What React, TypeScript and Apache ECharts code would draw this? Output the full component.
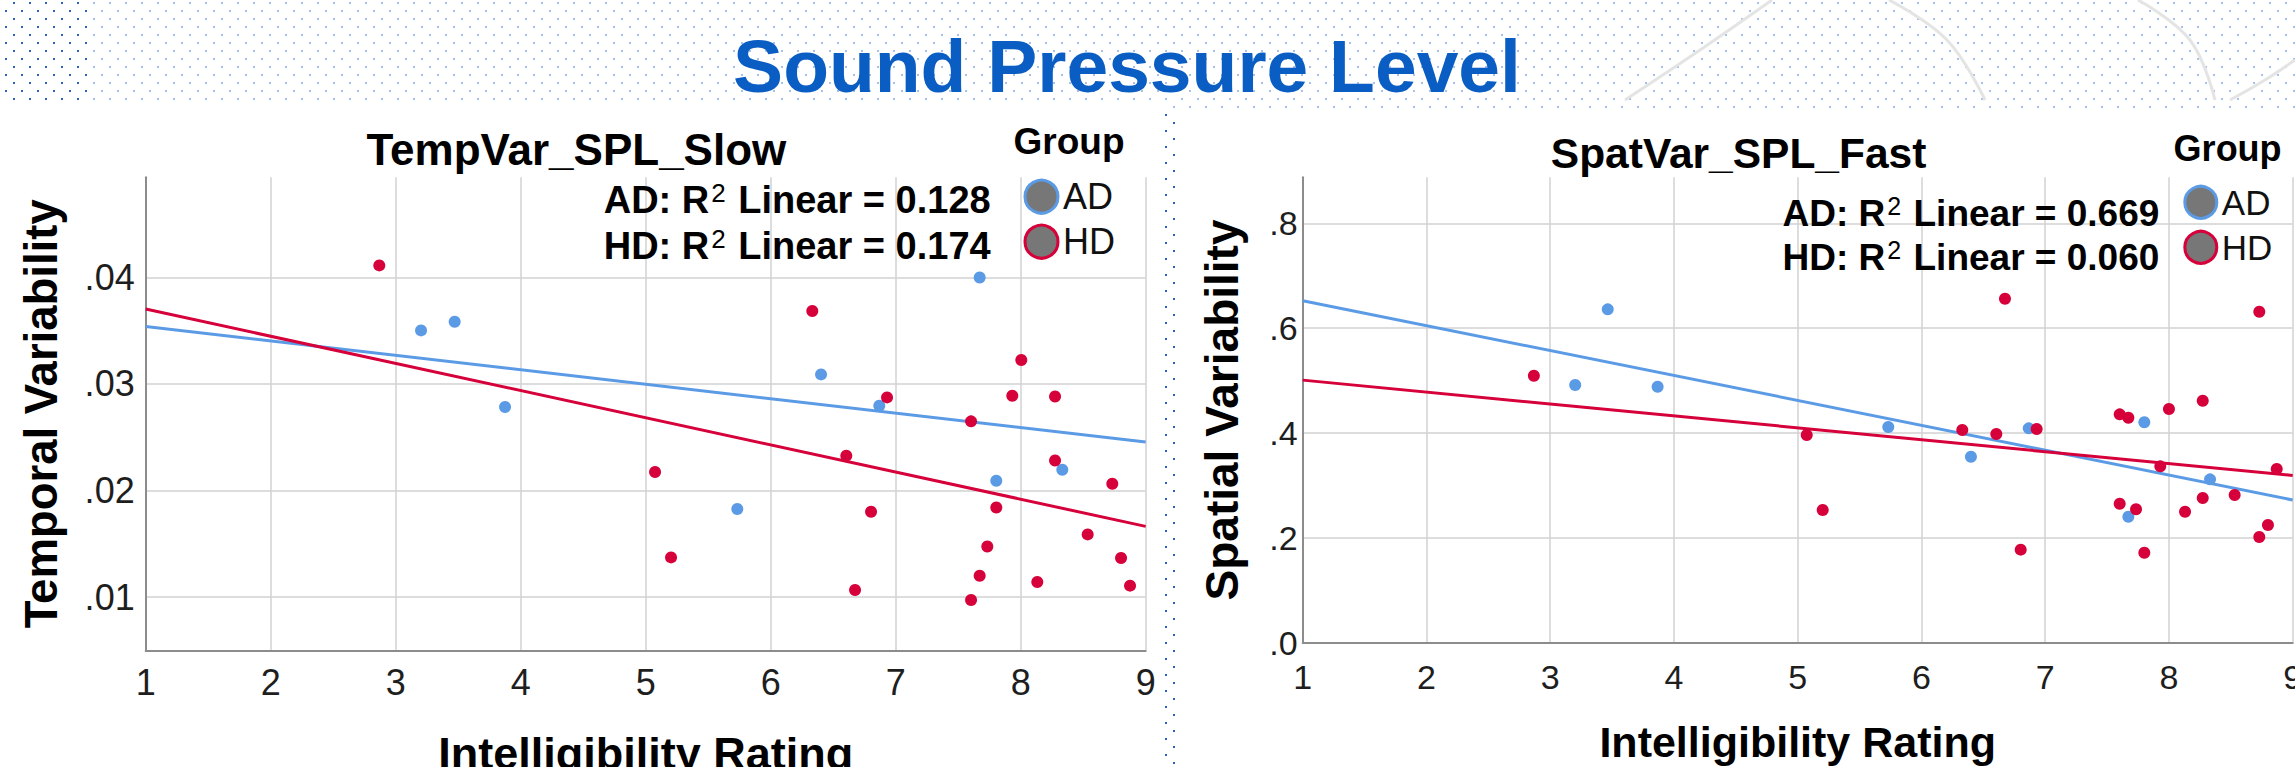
import React, { useEffect, useRef } from 'react';
import * as echarts from 'echarts';

const W = 2295;
const H = 767;
const FONT = "'Liberation Sans', Arial, Helvetica, sans-serif";

// ---------- texts ----------
const pageTitle = 'Sound Pressure Level';
const panelTitles = ['TempVar_SPL_Slow', 'SpatVar_SPL_Fast'];
const yNames = ['Temporal Variability', 'Spatial Variability'];
const xName = 'Intelligibility Rating';
const legendTitle = 'Group';
const groups = ['AD', 'HD'];
const r2Temp = ['0.128', '0.174'];
const r2Spat = ['0.669', '0.060'];

// ---------- axes ----------
const xMin = 1;
const xMax = 9;
const tempYMin = 0.005;
const tempYMax = 0.0494;
const spatYMin = 0;
const spatYMax = 0.888;

// ---------- data: TempVar_SPL_Slow ----------
const tempAdX = [3.203, 3.472, 3.875, 5.733, 6.403, 6.869, 7.672, 7.805, 8.333];
const tempAdY = [0.03503, 0.03584, 0.02784, 0.01826, 0.0309, 0.02796, 0.04, 0.02092, 0.02195];
const tempHdX = [2.869, 5.075, 5.203, 6.333, 6.605, 6.675, 6.803, 6.931, 7.603, 7.603, 7.672, 7.733, 7.805, 7.933, 8.005, 8.133, 8.275, 8.275, 8.536, 8.733, 8.803, 8.875];
const tempHdY = [0.04113, 0.02174, 0.01372, 0.03685, 0.02327, 0.01066, 0.018, 0.02874, 0.02649, 0.00972, 0.012, 0.01475, 0.01841, 0.0289, 0.03225, 0.01141, 0.02883, 0.02282, 0.01588, 0.02064, 0.01367, 0.01107];

// ---------- data: SpatVar_SPL_Fast ----------
const spatAdX = [3.202, 3.465, 3.868, 5.732, 6.4, 6.867, 7.672, 7.801, 8.332];
const spatAdY = [0.4916, 0.636, 0.4884, 0.4115, 0.3548, 0.409, 0.2404, 0.4205, 0.3117];
const spatHdX = [2.868, 5.073, 5.202, 6.33, 6.605, 6.675, 6.802, 6.931, 7.602, 7.602, 7.672, 7.734, 7.801, 7.93, 8.0, 8.13, 8.273, 8.273, 8.531, 8.73, 8.73, 8.8, 8.871];
const spatHdY = [0.5093, 0.3962, 0.2532, 0.4058, 0.3981, 0.6562, 0.1775, 0.4077, 0.4357, 0.2652, 0.4292, 0.2545, 0.1717, 0.3365, 0.4458, 0.2499, 0.4616, 0.2761, 0.2818, 0.6314, 0.2017, 0.2246, 0.3314];

// ---------- fit lines (end points) ----------
const fitX = [1, 9];
const tempFitAdY = [0.0354, 0.02455];
const tempFitHdY = [0.03703, 0.01663];
const spatFitAdY = [0.6524, 0.2723];
const spatFitHdY = [0.501, 0.319];

const BLUE = '#5B9BE6';
const RED = '#D6003A';
const GRID_C = '#d2d2d2';
const AXIS_C = '#8c8c8c';
const LABEL_C = '#1e1e1e';

const zip = (xs: number[], ys: number[]) => xs.map((x, i) => [x, ys[i]]);

function dotLayer(color: string, ox: number, oy: number) {
  // staggered dot grid: dots at (14+16n, 99+16m) and (6+16n, 91+16m) in page coordinates
  const mod = (v: number) => ((v % 16) + 16) % 16;
  const g = `radial-gradient(circle at 8px 8px, ${color} 0px, ${color} 1.1px, rgba(255,255,255,0) 1.5px)`;
  return {
    backgroundImage: `${g}, ${g}`,
    backgroundSize: '16px 16px, 16px 16px',
    backgroundPosition: `${mod(14 - 8 - ox)}px ${mod(99 - 8 - oy)}px, ${mod(6 - 8 - ox)}px ${mod(91 - 8 - oy)}px`,
  } as React.CSSProperties;
}

function buildOption() {
  const xAxisBase = (gridIndex: number, fs: number, margin: number, nameGap: number, nameFs: number) => ({
    type: 'value',
    gridIndex,
    min: xMin,
    max: xMax,
    interval: 1,
    axisLine: { show: true, onZero: false, lineStyle: { color: AXIS_C, width: 2 } },
    axisTick: { show: false },
    axisLabel: { fontSize: fs, color: LABEL_C, margin, fontFamily: FONT },
    splitLine: { show: true, lineStyle: { color: GRID_C, width: 1.5 } },
    name: xName,
    nameLocation: 'middle',
    nameGap,
    nameTextStyle: { fontSize: nameFs, fontWeight: 'bold', color: '#000', fontFamily: FONT },
  });

  const legendBase = (left: number, top: number, size: number, fs: number, gap: number) => ({
    orient: 'vertical',
    left,
    top,
    itemWidth: size,
    itemHeight: size,
    itemGap: gap,
    icon: 'circle',
    selectedMode: false,
    padding: 0,
    textStyle: { fontSize: fs, lineHeight: fs, color: '#111', fontFamily: FONT },
    data: groups.map((g, i) => ({
      name: g,
      itemStyle: { color: '#777777', borderColor: i === 0 ? BLUE : RED, borderWidth: 3 },
    })),
  });

  const r2Text = (label: string, val: string, x: number, y: number, fs: number) => ({
    type: 'text',
    x,
    y,
    z: 10,
    style: {
      text: `{a|${label}: R}{s|2}{a| Linear = ${val}}`,
      align: 'right',
      textAlign: 'right',
      verticalAlign: 'middle',
      textVerticalAlign: 'middle',
      rich: {
        a: { fontSize: fs, fontWeight: 'bold', fontFamily: FONT, fill: '#000', color: '#000', lineHeight: 40 },
        s: { fontSize: Math.round(fs * 0.68), fontWeight: 'normal', fontFamily: FONT, fill: '#000', color: '#000', lineHeight: 11, verticalAlign: 'top', padding: [0, 2, 0, 2] },
      },
    },
  });

  const plainText = (text: string, x: number, y: number, fs: number, color = '#000') => ({
    type: 'text',
    x,
    y,
    z: 10,
    style: {
      text,
      align: 'center',
      textAlign: 'center',
      verticalAlign: 'middle',
      textVerticalAlign: 'middle',
      fontSize: fs,
      fontWeight: 'bold',
      fontFamily: FONT,
      fill: color,
    },
  });

  const decoLine = (pts: number[][]) => ({
    type: 'polyline',
    z: -10,
    silent: true,
    shape: { points: pts, smooth: 0.4 },
    style: { stroke: '#e4e4e4', lineWidth: 3, fill: 'none' },
  });

  return {
    animation: false,
    backgroundColor: 'transparent',
    textStyle: { fontFamily: FONT },
    grid: [
      { left: 145.67, top: 177.3, width: 1000, height: 473, containLabel: false, outerBoundsMode: 'none' },
      { left: 1302.7, top: 177.3, width: 990, height: 465.4, containLabel: false, outerBoundsMode: 'none' },
    ],
    xAxis: [xAxisBase(0, 36, 14, 81, 45), xAxisBase(1, 34, 17, 78, 43)],
    yAxis: [
      {
        type: 'value',
        gridIndex: 0,
        min: tempYMin,
        max: tempYMax,
        splitNumber: 5,
        minInterval: 0.01,
        maxInterval: 0.01,
        axisLine: { show: true, onZero: false, lineStyle: { color: AXIS_C, width: 2 } },
        axisTick: { show: false },
        axisLabel: {
          fontSize: 36,
          color: LABEL_C,
          margin: 11,
          fontFamily: FONT,
          showMinLabel: false,
          showMaxLabel: false,
          padding: [12, 0, 0, 0],
          formatter: (v: number) => v.toFixed(2).replace(/^0/, ''),
        },
        splitLine: { show: true, showMinLine: false, showMaxLine: false, lineStyle: { color: GRID_C, width: 1.5 } },
        name: yNames[0],
        nameLocation: 'middle',
        nameGap: 81,
        nameTextStyle: { fontSize: 45.5, fontWeight: 'bold', color: '#000', fontFamily: FONT },
      },
      {
        type: 'value',
        gridIndex: 1,
        min: spatYMin,
        max: spatYMax,
        interval: 0.2,
        axisLine: { show: true, onZero: false, lineStyle: { color: AXIS_C, width: 2 } },
        axisTick: { show: false },
        axisLabel: {
          fontSize: 34,
          color: LABEL_C,
          margin: 5,
          fontFamily: FONT,
          showMaxLabel: false,
          padding: [20, 0, 0, 0],
          formatter: (v: number) => v.toFixed(1).replace(/^0/, ''),
        },
        splitLine: { show: true, showMinLine: false, showMaxLine: false, lineStyle: { color: GRID_C, width: 1.5 } },
        name: yNames[1],
        nameLocation: 'middle',
        nameGap: 58,
        nameTextStyle: { fontSize: 46, fontWeight: 'bold', color: '#000', fontFamily: FONT },
      },
    ],
    legend: [legendBase(1023.5, 178.7, 33, 36, 9), legendBase(2183.3, 184.8, 32, 35, 10)],
    series: [
      { name: 'AD fit', type: 'line', xAxisIndex: 0, yAxisIndex: 0, data: zip(fitX, tempFitAdY), showSymbol: false, silent: true, z: 2, lineStyle: { color: BLUE, width: 3 } },
      { name: 'HD fit', type: 'line', xAxisIndex: 0, yAxisIndex: 0, data: zip(fitX, tempFitHdY), showSymbol: false, silent: true, z: 2, lineStyle: { color: RED, width: 3 } },
      { name: groups[0], type: 'scatter', xAxisIndex: 0, yAxisIndex: 0, data: zip(tempAdX, tempAdY), symbolSize: 12, z: 3, itemStyle: { color: BLUE, opacity: 1 } },
      { name: groups[1], type: 'scatter', xAxisIndex: 0, yAxisIndex: 0, data: zip(tempHdX, tempHdY), symbolSize: 12, z: 4, itemStyle: { color: RED, opacity: 1 } },
      { name: 'AD fit', type: 'line', xAxisIndex: 1, yAxisIndex: 1, data: zip(fitX, spatFitAdY), showSymbol: false, silent: true, z: 2, lineStyle: { color: BLUE, width: 3 } },
      { name: 'HD fit', type: 'line', xAxisIndex: 1, yAxisIndex: 1, data: zip(fitX, spatFitHdY), showSymbol: false, silent: true, z: 2, lineStyle: { color: RED, width: 3 } },
      { name: groups[0], type: 'scatter', xAxisIndex: 1, yAxisIndex: 1, data: zip(spatAdX, spatAdY), symbolSize: 12, z: 3, itemStyle: { color: BLUE, opacity: 1 } },
      { name: groups[1], type: 'scatter', xAxisIndex: 1, yAxisIndex: 1, data: zip(spatHdX, spatHdY), symbolSize: 12, z: 4, itemStyle: { color: RED, opacity: 1 } },
    ],
    graphic: [
      decoLine([[1625, 100], [1700, 50], [1772, 0]]),
      decoLine([[1889, 0], [1947, 40], [1985, 100]]),
      decoLine([[2138, 0], [2190, 40], [2215, 100]]),
      decoLine([[2230, 100], [2265, 80], [2295, 60]]),
      plainText(pageTitle, 1127, 65.8, 75, '#0A5DC2'),
      plainText(panelTitles[0], 576.4, 149.3, 44),
      plainText(panelTitles[1], 1738.6, 153.7, 42.5),
      plainText(legendTitle, 1069, 141.7, 37),
      plainText(legendTitle, 2227.6, 148, 36),
      r2Text(groups[0], r2Temp[0], 990.7, 200, 38),
      r2Text(groups[1], r2Temp[1], 990.7, 246, 38),
      r2Text(groups[0], r2Spat[0], 2159.3, 213.8, 37),
      r2Text(groups[1], r2Spat[1], 2159.3, 257.8, 37),
    ],
  };
}

export default function App() {
  const ref = useRef<HTMLDivElement>(null);
  useEffect(() => {
    if (!ref.current) return;
    const chart = echarts.init(ref.current, null, { renderer: 'svg', width: W, height: H });
    chart.setOption(buildOption() as any);
    return () => chart.dispose();
  }, []);

  return (
    <div style={{ position: 'fixed', left: 0, top: 0, width: W, height: H, overflow: 'hidden', background: '#fff' }}>
      <div style={{ position: 'absolute', left: 0, top: 0, width: W, height: H, ...dotLayer('#a7c1e9', 0, 0) }} />
      <div style={{ position: 'absolute', left: 0, top: 0, width: 90, height: 104, ...dotLayer('#2f62c0', 0, 0) }} />
      <div style={{ position: 'absolute', left: 0, top: 103, width: 1162, height: H - 103, background: '#fff' }} />
      <div style={{ position: 'absolute', left: 1177, top: 110, width: W - 1177, height: H - 110, background: '#fff' }} />
      <div style={{ position: 'absolute', left: 1162, top: 110, width: 15, height: H - 110, ...dotLayer('#2a5fc4', 1162, 110) }} />
      <div ref={ref} style={{ position: 'absolute', left: 0, top: 0, width: W, height: H }} />
    </div>
  );
}
